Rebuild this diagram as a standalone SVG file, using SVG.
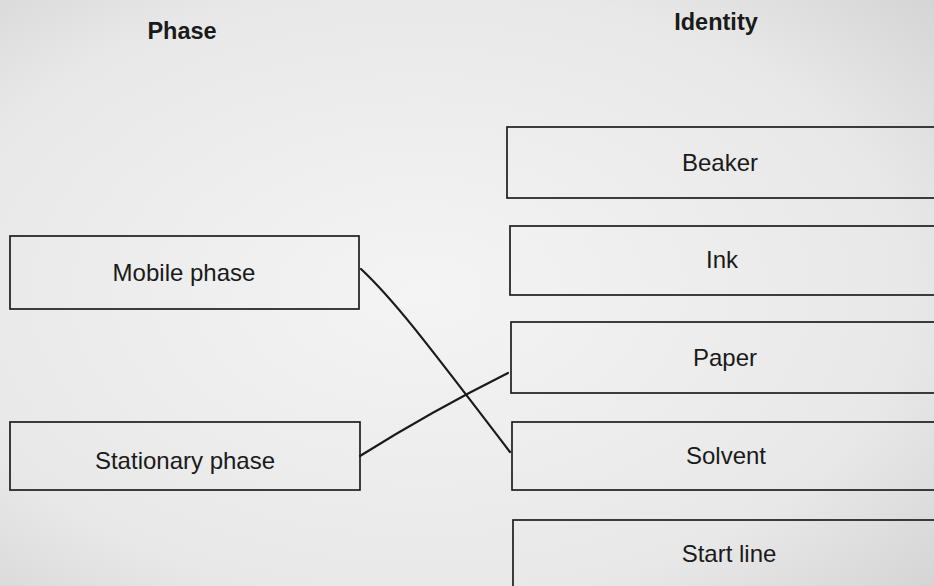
<svg xmlns="http://www.w3.org/2000/svg" width="934" height="586" viewBox="0 0 934 586">
<defs>
<radialGradient id="bg" cx="0.45" cy="0.5" r="0.75">
<stop offset="0" stop-color="#f4f4f4"/>
<stop offset="0.7" stop-color="#e8e8e8"/>
<stop offset="1" stop-color="#d4d4d4"/>
</radialGradient>
<style>
.box{fill:none;stroke:#1e1e1e;stroke-width:1.7}
.lbl{font-family:"Liberation Sans",Arial,sans-serif;font-size:24px;fill:#1a1a1a;text-anchor:middle}
.hdr{font-family:"Liberation Sans",Arial,sans-serif;font-size:23.5px;font-weight:bold;fill:#1a1a1a;text-anchor:middle}
.con{fill:none;stroke:#1a1a1a;stroke-width:2.2;stroke-linecap:round}
</style>
</defs>
<rect x="0" y="0" width="934" height="586" fill="url(#bg)"/>
<text class="hdr" x="182" y="39">Phase</text>
<text class="hdr" x="716" y="30">Identity</text>
<g id="mobile"><rect class="box" x="10" y="236" width="349" height="73"/><text class="lbl" x="184" y="281">Mobile phase</text></g>
<g id="stationary"><rect class="box" x="10" y="422" width="350" height="68"/><text class="lbl" x="185" y="469">Stationary phase</text></g>
<g id="beaker"><rect class="box" x="507" y="127" width="440" height="71"/><text class="lbl" x="720" y="171">Beaker</text></g>
<g id="ink"><rect class="box" x="510" y="226" width="440" height="69"/><text class="lbl" x="722" y="268">Ink</text></g>
<g id="paper"><rect class="box" x="511" y="322" width="440" height="71"/><text class="lbl" x="725" y="366">Paper</text></g>
<g id="solvent"><rect class="box" x="512" y="422" width="440" height="68"/><text class="lbl" x="726" y="464">Solvent</text></g>
<g id="startline"><rect class="box" x="513" y="520" width="440" height="80"/><text class="lbl" x="729" y="562">Start line</text></g>
<g id="connectors">
<path class="con" d="M361,269 C392,298 420,334 510,452"/>
<path class="con" d="M360,456 Q430,412 508,373"/>
</g>
</svg>
